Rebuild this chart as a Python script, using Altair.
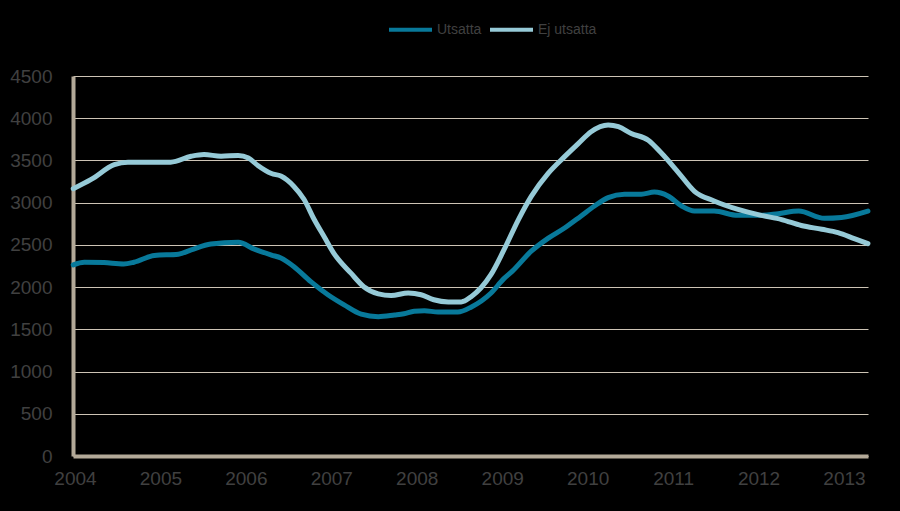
import altair as alt
import pandas as pd

series_names = ["Utsatta", "Ej utsatta"]
series_colors = ["#08799a", "#96cad7"]

utsatta_x = [2003.98, 2004.11, 2004.34, 2004.57, 2004.69, 2004.93, 2005.21, 2005.36, 2005.59, 2005.91,
             2006.10, 2006.30, 2006.41, 2006.56, 2006.76, 2006.96, 2007.15, 2007.35, 2007.55, 2007.74,
             2007.85, 2007.97, 2008.09, 2008.25, 2008.48, 2008.64, 2008.87, 2009.02, 2009.11, 2009.34,
             2009.54, 2009.73, 2009.92, 2010.08, 2010.24, 2010.43, 2010.63, 2010.78, 2010.94, 2011.10,
             2011.25, 2011.48, 2011.76, 2012.03, 2012.23, 2012.47, 2012.77, 2012.97, 2013.28]
utsatta_y = [2264, 2295, 2290, 2275, 2295, 2375, 2390, 2440, 2510, 2530,
             2450, 2380, 2345, 2245, 2065, 1910, 1790, 1680, 1650, 1670,
             1685, 1715, 1720, 1705, 1705, 1765, 1930, 2100, 2180, 2425,
             2580, 2700, 2840, 2960, 3060, 3100, 3100, 3125, 3080, 2960,
             2900, 2900, 2850, 2850, 2870, 2900, 2815, 2825, 2900]

ej_x = [2003.98, 2004.19, 2004.46, 2004.62, 2005.12, 2005.36, 2005.51, 2005.71, 2005.91, 2006.03,
        2006.14, 2006.30, 2006.41, 2006.56, 2006.68, 2006.80, 2006.92, 2007.03, 2007.23, 2007.38,
        2007.55, 2007.70, 2007.90, 2008.05, 2008.20, 2008.37, 2008.52, 2008.64, 2008.75, 2008.87,
        2009.02, 2009.19, 2009.34, 2009.54, 2009.73, 2009.89, 2010.04, 2010.24, 2010.36, 2010.51,
        2010.71, 2010.86, 2011.06, 2011.25, 2011.48, 2011.76, 2012.03, 2012.27, 2012.50, 2012.74,
        2012.93, 2013.12, 2013.28]
ej_y = [3165, 3275, 3450, 3480, 3480, 3550, 3570, 3550, 3560, 3530,
        3440, 3345, 3315, 3195, 3040, 2800, 2590, 2400, 2165, 2005,
        1920, 1900, 1930, 1910, 1850, 1825, 1825, 1890, 1990, 2150,
        2440, 2800, 3075, 3350, 3545, 3700, 3840, 3920, 3900, 3820,
        3740, 3590, 3360, 3135, 3020, 2920, 2850, 2800, 2730, 2685,
        2645, 2575, 2515]

year_ticks = list(range(2004, 2014))
y_ticks = list(range(0, 5000, 500))

df = pd.concat([
    pd.DataFrame({"x": utsatta_x, "y": utsatta_y, "serie": series_names[0]}),
    pd.DataFrame({"x": ej_x, "y": ej_y, "serie": series_names[1]}),
])

font = "Liberation Sans"
text_color = "#404040"
grid_color = "#cdc4b5"
axis_color = "#b3a998"

# make the page behind the chart black as well
try:
    import altair.utils.html as _h
    _orig_tpl = _h.TEMPLATES["standard"]

    class _BlackPage:
        def render(self, *args, **kwargs):
            out = _orig_tpl.render(*args, **kwargs)
            return out.replace("<head>", "<head>\n<style>html,body{background:#000000;}</style>", 1)

    _h.TEMPLATES["standard"] = _BlackPage()
except Exception:
    pass

base = alt.Chart(df).mark_line(strokeWidth=5, interpolate="monotone", strokeCap="round").encode(
    x=alt.X("x:Q",
            scale=alt.Scale(domain=[2003.977, 2013.281], nice=False, zero=False),
            axis=alt.Axis(values=year_ticks, format="d", title=None, grid=False, ticks=False, tickSize=0,
                          domainColor=axis_color, domainWidth=4, labelColor=text_color,
                          labelFont=font, labelFontSize=19, labelPadding=13, labelFlush=False)),
    y=alt.Y("y:Q",
            scale=alt.Scale(domain=[0, 4500], nice=False),
            axis=alt.Axis(values=y_ticks, format="d", title=None, grid=True, gridColor=grid_color,
                          gridWidth=1, ticks=False, tickSize=0, domainColor=axis_color, domainWidth=4,
                          labelColor=text_color, labelFont=font, labelFontSize=19, labelPadding=21)),
    color=alt.Color("serie:N",
                    scale=alt.Scale(domain=series_names, range=series_colors),
                    legend=alt.Legend(title=None, orient="none", legendX=314, legendY=-70,
                                      direction="horizontal", columns=2, symbolType="stroke",
                                      symbolSize=1849, symbolStrokeWidth=4, labelFont=font,
                                      labelFontSize=14, labelColor=text_color, labelOffset=3,
                                      columnPadding=0, padding=0)),
)

chart = alt.layer(
    base.transform_filter(alt.datum.serie == series_names[0]),
    base.transform_filter(alt.datum.serie == series_names[1]),
).properties(
    width=795, height=380,
    background="#000000",
    autosize=alt.AutoSizeParams(type="none"),
    padding={"left": 65, "top": 68, "right": 24, "bottom": 47},
).configure_view(stroke=None)

chart.save("out.html", embed_options={"renderer": "svg", "actions": False})
